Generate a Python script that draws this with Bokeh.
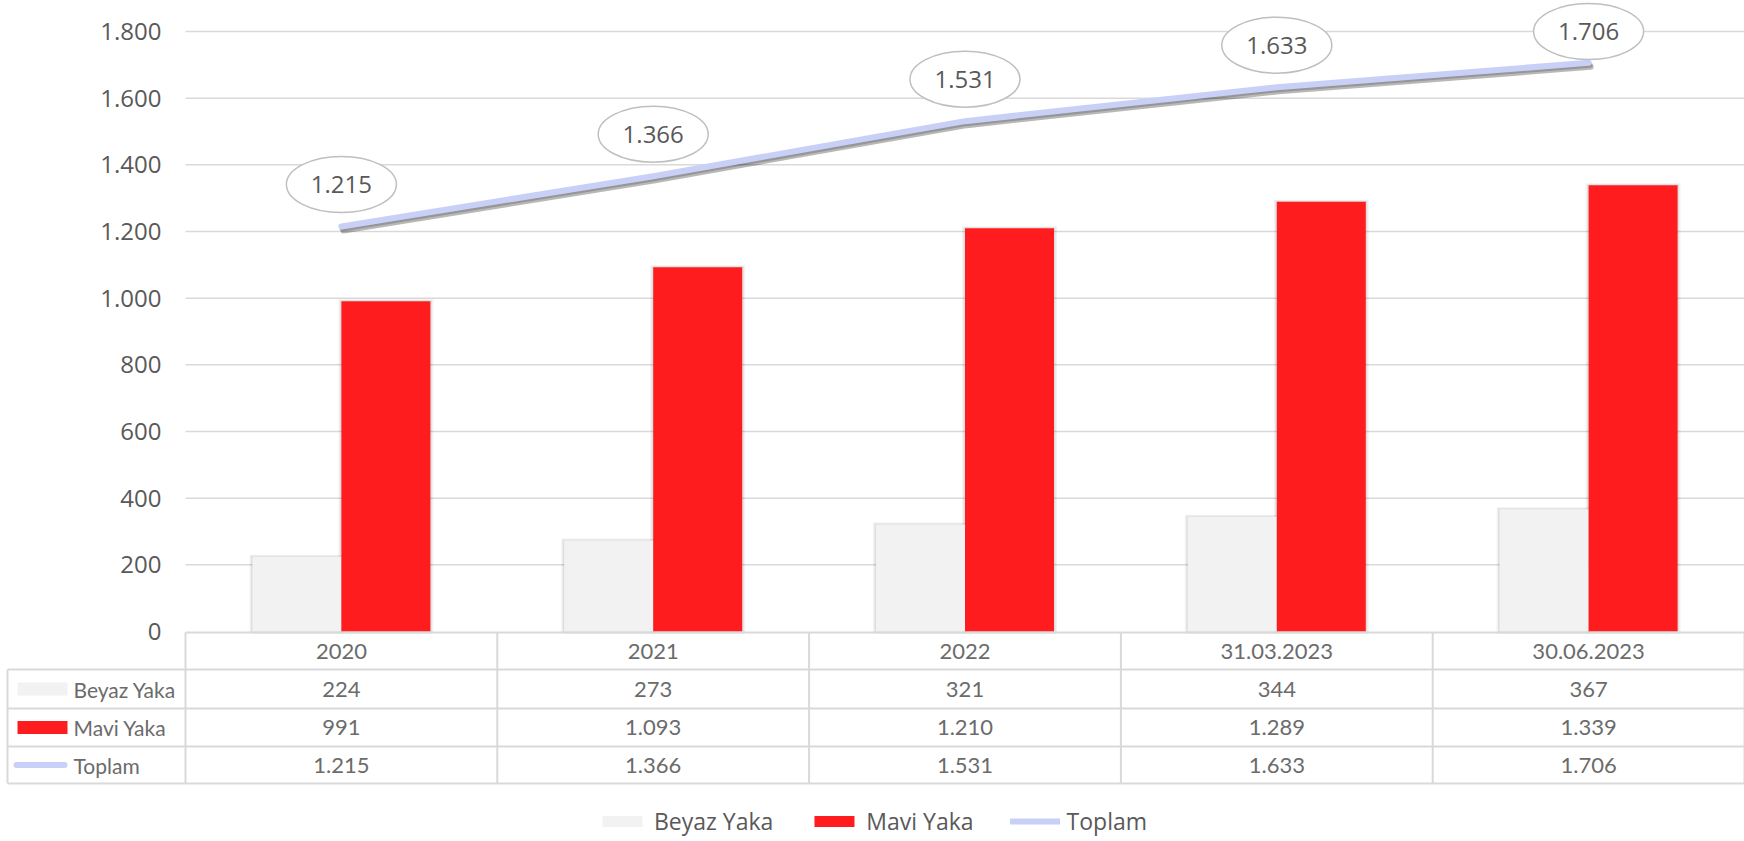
import numpy as np
from bokeh.plotting import figure
from bokeh.models import Range1d, Legend, LegendItem
from bokeh.core.properties import value
from bokeh.embed import file_html
from bokeh.resources import INLINE

# ---------------- data ----------------
categories = ["2020", "2021", "2022", "31.03.2023", "30.06.2023"]
beyaz_yaka = [224, 273, 321, 344, 367]
mavi_yaka = [991, 1093, 1210, 1289, 1339]
toplam = [1215, 1366, 1531, 1633, 1706]
y_ticks = [0, 200, 400, 600, 800, 1000, 1200, 1400, 1600, 1800]
series_names = ["Beyaz Yaka", "Mavi Yaka", "Toplam"]


def fmt(v):
    return f"{v:,}".replace(",", ".")


# ---------------- layout helpers (page pixel -> data) ----------------
W, H = 1744, 841
OFF = 0             # page offset of the canvas
CAT_PX = 311.8      # width of one category in pixels
X0_PX = 185         # left edge of plot area (page px)
BASE_PX = 631       # y=0 baseline (page px)
UNITS_PER_PX = 3    # data units per pixel vertically


def X(px):
    return (px - X0_PX) / CAT_PX


def Y(px):
    return (BASE_PX - px) * UNITS_PER_PX


TXT = "#595959"
TXT2 = "#6B6B6B"
GRID = "#D9D9D9"
WHITE_BAR = "#F2F2F2"
RED_BAR = "#FF1C1F"
LINE_C = "#C9D0F8"

n = len(categories)
xc = np.arange(n) + 0.5
bw = 89 / CAT_PX

p = figure(width=W, height=H,
           x_range=Range1d(X(OFF), X(OFF + W)),
           y_range=Range1d(Y(OFF + H), Y(OFF)),
           output_backend="svg", toolbar_location=None,
           min_border=0, x_axis_location=None, y_axis_location=None)
p.outline_line_color = None
p.background_fill_color = "white"
p.xgrid.visible = False
p.ygrid.visible = False

# gridlines
gt = y_ticks[1:]
p.segment(x0=[0] * len(gt), x1=[n] * len(gt), y0=gt, y1=gt,
          line_color=GRID, line_width=1.5)

# y tick labels
p.text(x=[X(161)] * len(y_ticks), y=y_ticks, text=[fmt(t) for t in y_ticks],
       text_align="right", text_baseline="middle",
       text_font=value("Open Sans"), text_font_size="24px", text_color=TXT)

# bar shadows
for dx, vals in ((-bw / 2, beyaz_yaka), (bw / 2, mavi_yaka)):
    for extra, alpha in ((6, 0.05), (3, 0.08)):
        p.vbar(x=xc + dx, top=np.array(vals) + extra, bottom=-2 * UNITS_PER_PX,
               width=bw + extra / CAT_PX, fill_color="black", fill_alpha=alpha,
               line_color=None)

# bars
rw = p.vbar(x=xc - bw / 2, top=beyaz_yaka, bottom=0, width=bw,
            fill_color=WHITE_BAR, line_color=None)
rm = p.vbar(x=xc + bw / 2, top=mavi_yaka, bottom=0, width=bw,
            fill_color=RED_BAR, line_color=None)

# total line with shadow
p.line(xc + 2 / CAT_PX, np.array(toplam) - 4 * UNITS_PER_PX, line_width=6,
       line_color="black", line_alpha=0.28, line_cap="round", line_join="round")
p.line(xc + 1 / CAT_PX, np.array(toplam) - 2 * UNITS_PER_PX, line_width=6,
       line_color="black", line_alpha=0.18, line_cap="round", line_join="round")
rt = p.line(xc, toplam, line_width=6, line_color=LINE_C,
            line_cap="round", line_join="round")

# data labels in ellipses
ly = np.minimum(np.array(toplam) + 42 * UNITS_PER_PX, y_ticks[-1])
p.ellipse(x=xc, y=ly, width=110, height=56, width_units="screen",
          height_units="screen", fill_color="white", line_color="#BFBFBF",
          line_width=1.5)
p.text(x=xc, y=ly, text=[fmt(v) for v in toplam], text_align="center",
       text_baseline="middle", text_font=value("Open Sans"),
       text_font_size="24px", text_color=TXT)

# ---------------- data table ----------------
row_lines = [Y(669), Y(708), Y(746), Y(783)]
top_line = Y(632)
p.segment(x0=[0], x1=[n], y0=[top_line], y1=[top_line],
          line_color=GRID, line_width=2)
p.segment(x0=[X(7)] * len(row_lines), x1=[n] * len(row_lines),
          y0=row_lines, y1=row_lines, line_color=GRID, line_width=2)
p.segment(x0=[X(7)], x1=[X(7)], y0=[row_lines[0]], y1=[row_lines[-1]],
          line_color=GRID, line_width=2)
p.segment(x0=list(range(n + 1)), x1=list(range(n + 1)),
          y0=[top_line] * (n + 1), y1=[row_lines[-1]] * (n + 1),
          line_color=GRID, line_width=2)

cat_y = Y(650.5)
row_y = [Y(688.5), Y(727), Y(764.5)]
tfont = value("Lato")
p.text(x=xc, y=[cat_y] * n, text=categories, text_align="center",
       text_baseline="middle", text_font=tfont, text_font_size="22px",
       text_color=TXT2)
for ry, vals in zip(row_y, (beyaz_yaka, mavi_yaka, toplam)):
    p.text(x=xc, y=[ry] * n, text=[fmt(v) for v in vals], text_align="center",
           text_baseline="middle", text_font=tfont, text_font_size="22px",
           text_color=TXT2)

# row headers
p.text(x=[X(73)] * 3, y=row_y, text=series_names, text_align="left",
       text_baseline="middle", text_font=tfont, text_font_size="21px",
       text_color=TXT2)
p.rect(x=[X(42)] * 2, y=row_y[:2], width=50, height=13, width_units="screen",
       height_units="screen", fill_color=[WHITE_BAR, RED_BAR], line_color=None)
p.segment(x0=[X(16)], x1=[X(64)], y0=[row_y[2]], y1=[row_y[2]],
          line_color=LINE_C, line_width=6, line_cap="round")

# ---------------- legend ----------------
legend = Legend(items=[LegendItem(label=series_names[0], renderers=[rw]),
                       LegendItem(label=series_names[1], renderers=[rm]),
                       LegendItem(label=series_names[2], renderers=[rt])],
                orientation="horizontal", location="bottom_center",
                glyph_width=50, glyph_height=14, label_standoff=7,
                spacing=36, padding=0, margin=4,
                label_text_font="Open Sans", label_text_font_size="23px",
                label_text_color=TXT, background_fill_alpha=0,
                border_line_color=None)
p.add_layout(legend)

open("out.html", "w").write(file_html(p, INLINE))
